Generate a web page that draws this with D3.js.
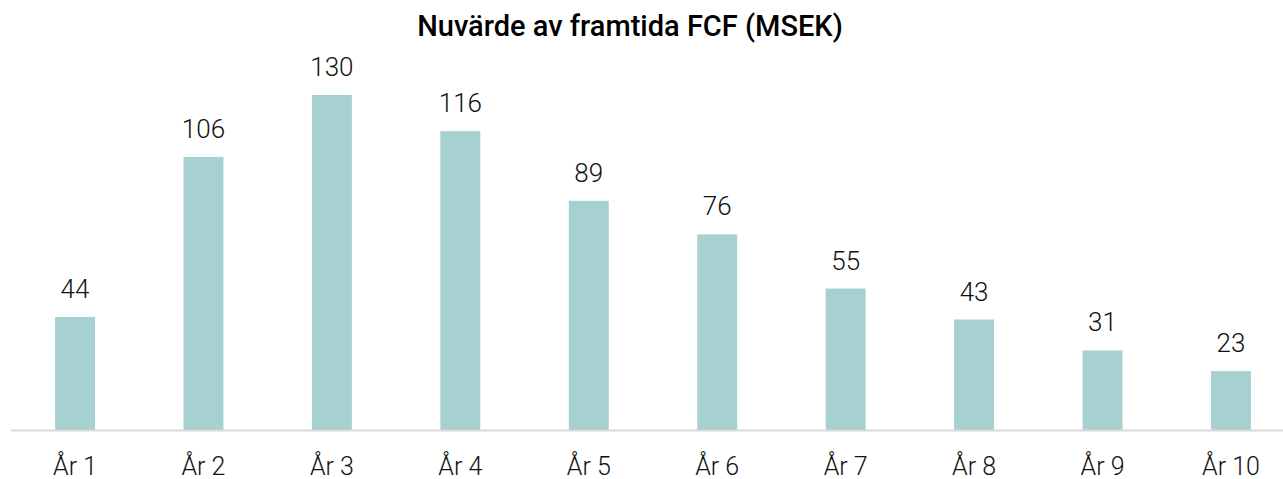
<!DOCTYPE html>
<html>
<head>
<meta charset="utf-8">
<script src="https://cdn.jsdelivr.net/npm/d3@7"></script>
<style>
  body { margin: 0; background: #fff; }
  svg { display: block; font-family: Roboto, "Open Sans", sans-serif; }
</style>
</head>
<body>
<svg width="1283" height="479"></svg>
<script>
// data
var years = ['År 1', 'År 2', 'År 3', 'År 4', 'År 5', 'År 6', 'År 7', 'År 8', 'År 9', 'År 10'];
var values = [44, 106, 130, 116, 89, 76, 55, 43, 31, 23];
var title = 'Nuvärde av framtida FCF (MSEK)';

var svg = d3.select('svg'),
    width = +svg.attr('width'),
    height = +svg.attr('height');

var baseY = 430.5;

var x = d3.scaleBand()
    .domain(years)
    .range([10.8, 1295.2])
    .paddingInner(0.689)
    .paddingOuter(0.3445);

var y = d3.scaleLinear()
    .domain([0, 130])
    .range([baseY, 95]);

// title
svg.append('text')
    .attr('x', 630)
    .attr('y', 36)
    .attr('text-anchor', 'middle')
    .style('font-size', '29px')
    .style('font-weight', 500)
    .style('fill', '#000')
    .text(title);

var data = years.map(function(d, i) { return {year: d, value: values[i]}; });

svg.selectAll('.bar')
    .data(data)
  .enter().append('rect')
    .attr('class', 'bar')
    .attr('x', function(d) { return x(d.year); })
    .attr('width', x.bandwidth())
    .attr('y', function(d) { return y(d.value); })
    .attr('height', function(d) { return baseY - y(d.value); })
    .style('fill', '#a7d1d1');

// value labels
svg.selectAll('.val')
    .data(data)
  .enter().append('text')
    .attr('class', 'val')
    .attr('x', function(d) { return x(d.year) + x.bandwidth() / 2; })
    .attr('y', function(d) { return y(d.value) - 19; })
    .attr('text-anchor', 'middle')
    .style('font-size', '26px')
    .style('font-weight', 300)
    .style('fill', '#111')
    .text(function(d) { return d.value; });

// x axis
var axis = svg.append('g')
    .attr('transform', 'translate(0,' + baseY + ')')
    .call(d3.axisBottom(x).tickSize(0).tickPadding(0));

axis.select('.domain')
    .attr('d', 'M11,0H' + width)
    .style('stroke', '#d9d9d9')
    .style('stroke-width', 2);

axis.selectAll('.tick text')
    .attr('dy', null)
    .attr('y', 44)
    .style('font-family', 'Roboto, sans-serif')
    .style('font-size', '25px')
    .style('font-weight', 300)
    .style('fill', '#111');
</script>
</body>
</html>
